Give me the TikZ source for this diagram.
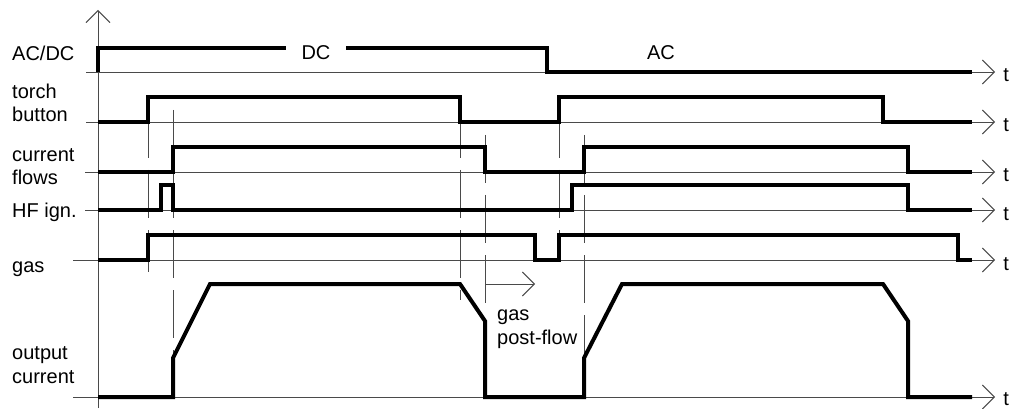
\documentclass[tikz,border=0pt]{standalone}
\usepackage{fontspec}
\setmainfont{Liberation Sans}
\usetikzlibrary{arrows.meta}
\definecolor{Trace}{HTML}{000000}
\definecolor{Guide}{HTML}{4A4A4A}
\tikzset{
  timeaxis/.style={-{Straight Barb[length=12pt,width=24pt]},line width=0.9pt,draw=Guide},
  signal/.style={line width=4pt,draw=Trace,line join=miter},
  marker/.style={line width=0.9pt,draw=Guide,dash pattern=on 48pt off 12pt},
  siglabel/.style={anchor=base west,align=left,inner sep=0pt,font=\fontsize{20}{23.5}\selectfont},
  tlabel/.style={anchor=base west,inner sep=0pt,xshift=8pt,yshift=-10pt,font=\fontsize{20}{24}\selectfont},
  modelabel/.style={anchor=base,inner sep=0pt,font=\fontsize{20}{24}\selectfont},
}

\begin{document}
\begin{tikzpicture}[x=1pt,y=-1pt]
    \useasboundingbox (0,0) rectangle (1026,409);

    % signal names (base = last line)
    \node[siglabel] (lacdc) at (12,61) {AC/DC};
    \node[siglabel] (ltorch) at (12,122) {torch\\button};
    \node[siglabel] (lcurrent) at (12,185) {current\\flows};
    \node[siglabel] (lhf) at (12,217) {HF ign.};
    \node[siglabel] (lgas) at (12,272) {gas};
    \node[siglabel] (loutput) at (12,383) {output\\current};

    % value axis and time axes
    \draw[timeaxis] (98,408) -- (98,10);
    \draw[timeaxis] (86,72) -- (995,72) node[tlabel] (t1) {t};
    \draw[timeaxis] (86,122) -- (995,122) node[tlabel] (t2) {t};
    \draw[timeaxis] (85,172) -- (995,172) node[tlabel] (t3) {t};
    \draw[timeaxis] (85,210) -- (995,210) node[tlabel] (t4) {t};
    \draw[timeaxis] (73,260) -- (995,260) node[tlabel] (t5) {t};
    \draw[timeaxis] (73,397) -- (995,397) node[tlabel,yshift=2pt] (t6) {t};

    % switching instants
    \draw[marker] (148,110) -- (148,272);
    \draw[marker] (173,110) -- (173,358);
    \draw[marker] (460,110) -- (460,300);
    \draw[marker] (485,135) -- (485,304);
    \draw[marker] (559,110) -- (559,235);
    \draw[marker] (584,135) -- (584,358);

    % AC/DC mode
    \node[modelabel] (dc) at (316,60) {DC};
    \node[modelabel] (ac) at (661,60) {AC};
    \draw[signal] (98,72) -- (98,48) -- (286,48);
    \draw[signal] (346,48) -- (547,48) -- (547,72) -- (972,72);

    % torch button, current flows, HF ignition, gas
    \draw[signal] (98,122) -- (148,122) -- (148,97) -- (460,97) -- (460,122) -- (559,122) -- (559,97) -- (883,97) -- (883,122) -- (972,122);
    \draw[signal] (98,172) -- (173,172) -- (173,147) -- (485,147) -- (485,172) -- (584,172) -- (584,147) -- (908,147) -- (908,172) -- (972,172);
    \draw[signal] (98,210) -- (161,210) -- (161,185) -- (173,185) -- (173,210) -- (572,210) -- (572,185) -- (908,185) -- (908,210) -- (972,210);
    \draw[signal] (98,260) -- (148,260) -- (148,235) -- (535,235) -- (535,260) -- (559,260) -- (559,235) -- (958,235) -- (958,260) -- (972,260);

    % output current with up- and down-slope
    \draw[signal] (98,397) -- (173,397) -- (173,358) -- (210,284) -- (460,284) -- (485,321) -- (485,397) -- (584,397) -- (584,358) -- (622,284) -- (883,284) -- (908,321) -- (908,397) -- (972,397);

    % post-flow time
    \coordinate (pfstart) at (485,284);
    \coordinate (pfend) at (535,284);
    \draw[timeaxis] (pfstart) -- (pfend);
    \node[siglabel,font=\fontsize{20}{24}\selectfont] (postflow) at (497,344) {gas\\post-flow};
\end{tikzpicture}
\end{document}
